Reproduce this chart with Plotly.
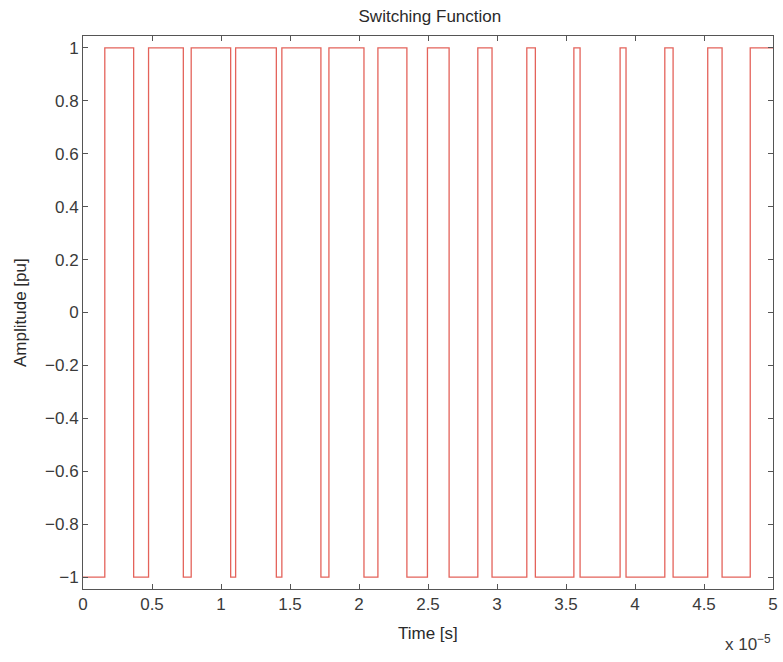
import plotly.graph_objects as go

# switching instants (units of 1e-5 s), level toggles at each edge
edge_times = [0.158, 0.367, 0.475, 0.727, 0.784, 1.070, 1.106, 1.401, 1.441, 1.724,
              1.782, 2.036, 2.137, 2.347, 2.496, 2.653, 2.861, 2.964, 3.216, 3.278,
              3.557, 3.602, 3.892, 3.935, 4.216, 4.276, 4.527, 4.631, 4.835]
start_level = -1
t_end = 5.0

x_ticks = [0, 0.5, 1, 1.5, 2, 2.5, 3, 3.5, 4, 4.5, 5]
x_tick_labels = ["0", "0.5", "1", "1.5", "2", "2.5", "3", "3.5", "4", "4.5", "5"]
y_ticks = [1, 0.8, 0.6, 0.4, 0.2, 0, -0.2, -0.4, -0.6, -0.8, -1]
y_tick_labels = ["1", "0.8", "0.6", "0.4", "0.2", "0", "\u22120.2", "\u22120.4", "\u22120.6", "\u22120.8", "\u22121"]

xs = [0.0]
ys = [start_level]
lvl = start_level
for t in edge_times:
    lvl = -lvl
    xs.append(t)
    ys.append(lvl)
xs.append(t_end)
ys.append(lvl)

fig = go.Figure()
fig.add_trace(go.Scatter(x=xs, y=ys, mode="lines", line=dict(color="#e4635b", width=1.3, shape="hv"),
                         showlegend=False, hoverinfo="skip"))

FAM = "Liberation Sans, Arial, sans-serif"
font = dict(family=FAM, size=17, color="#3a3a3a")
axis_common = dict(showgrid=False, zeroline=False, showline=True, linecolor="#555555", linewidth=1,
                   mirror="ticks", ticks="inside", ticklen=5, tickcolor="#555555", tickfont=font)

fig.update_layout(
    width=783, height=662,
    margin=dict(l=83, r=5, t=36, b=73),
    paper_bgcolor="white", plot_bgcolor="white",
    title=dict(text="Switching Function", x=0.549, xanchor="center", y=0.976, yanchor="middle",
               font=dict(family=FAM, size=17, color="#2a2a2a")),
    xaxis=dict(range=[0, 5], tickvals=x_ticks, ticktext=x_tick_labels, **axis_common),
    yaxis=dict(range=[-1.045, 1.045], tickvals=y_ticks, ticktext=y_tick_labels, **axis_common),
)
fig.add_annotation(text="Time [s]", xref="paper", yref="paper", x=0.5, y=-0.0796,
                   xanchor="center", yanchor="middle", showarrow=False,
                   font=dict(family=FAM, size=17, color="#2a2a2a"))
fig.add_annotation(text="Amplitude [pu]", xref="paper", yref="paper", x=-0.0906, y=0.5,
                   xanchor="center", yanchor="middle", textangle=-90, showarrow=False,
                   font=dict(family=FAM, size=17, color="#2a2a2a"))
fig.add_annotation(text="x 10<sup>\u22125</sup>", xref="paper", yref="paper", x=1.0, y=-0.0976,
                   xanchor="right", yanchor="middle", showarrow=False,
                   font=dict(family=FAM, size=17, color="#3a3a3a"))

fig.write_html("out.html")
